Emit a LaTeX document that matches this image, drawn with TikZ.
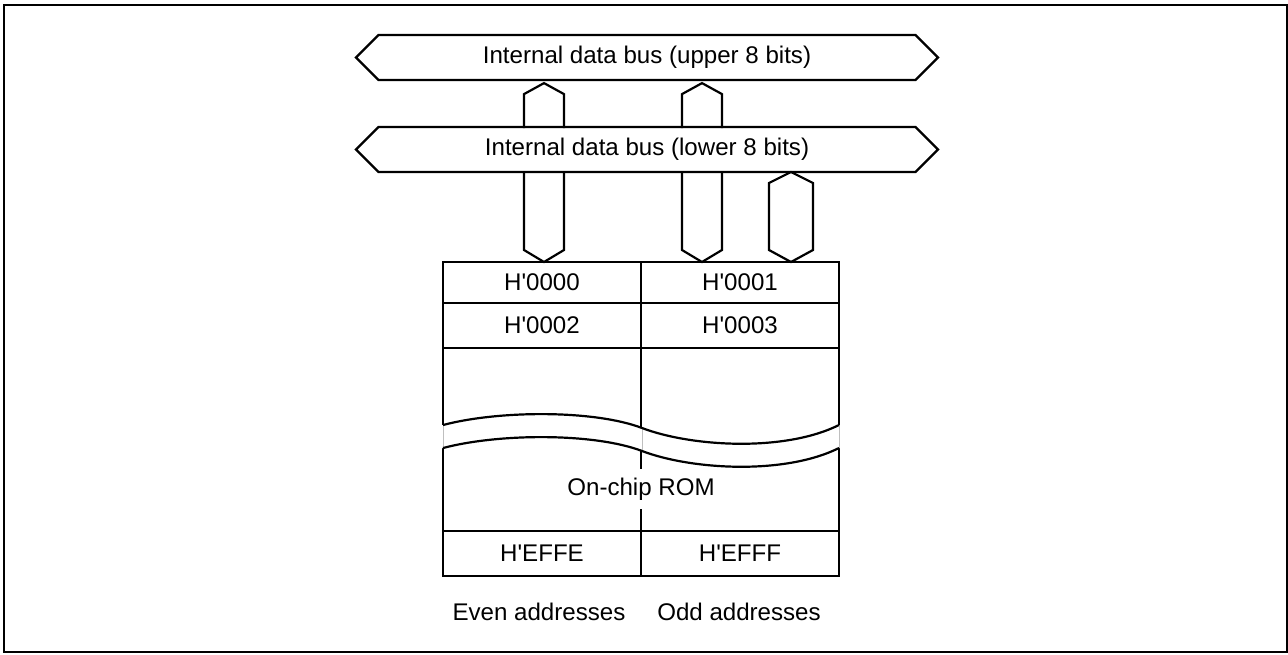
\documentclass[tikz,border=0pt]{standalone}
\usepackage{fontspec}
\setmainfont{Liberation Sans}
\usetikzlibrary{shapes.symbols,positioning,calc}
\newcommand\labelfont{\fontsize{24.1}{28}\selectfont}
\newcommand\hq{H\textquotesingle}
\tikzset{
  wire/.style={draw=black,line width=2.2pt,line join=miter},
  bus/.style={wire,signal,signal to=west and east,signal pointer angle=90,
    minimum width=582pt,minimum height=45pt,inner sep=0pt,font=\labelfont},
  cell/.style={wire,minimum width=198pt,minimum height=#1,inner sep=0pt,
    outer sep=0pt,font=\labelfont},
  cell/.default=45pt,
  tag/.style={font=\labelfont,inner sep=0pt},
  gapline/.style={draw=black!25,line width=0.4pt},
  % fat bus arrows, tip at the origin
  pics/bus up/.style={code={
    \draw[wire] (-20,#1) -- (-20,11) -- (0,0) -- (20,11) -- (20,#1);
  }},
  pics/bus down/.style={code={
    \draw[wire] (-20,-#1) -- (-20,-12) -- (0,0) -- (20,-12) -- (20,-#1);
  }},
  pics/bus both/.style={code={
    \draw[wire] (0,0) -- (-22,-12) -- (-22,-#1+11) -- (0,-#1) -- (22,-#1+11) -- (22,-12) -- cycle;
  }},
}

\begin{document}
\begin{tikzpicture}[x=1pt,y=-1pt]
  \useasboundingbox (0,0) rectangle (1288,654);
  \draw[line width=1.8pt] (4,5) rectangle (1287,652);

  % buses
  \node[bus] (upper) at (647,57.5) {Internal data bus (upper 8 bits)};
  \node[bus] (lower) at (647,149.5) {Internal data bus (lower 8 bits)};

  % memory cells
  \node[cell=41pt] (c0000) at (542,282.5) {\hq0000};
  \node[cell=41pt,right=0pt of c0000] (c0001) {\hq0001};
  \node[cell,below=0pt of c0000] (c0002) {\hq0002};
  \node[cell,below=0pt of c0001] (c0003) {\hq0003};
  \node[cell] (cEFFE) at (542,553.5) {\hq EFFE};
  \node[cell,right=0pt of cEFFE] (cEFFF) {\hq EFFF};
  \node[tag,minimum height=40pt] (rom) at (c0002.south east |- 0,489) {On-chip ROM};

  \draw[wire] (c0002.south west) -- (cEFFE.north west);
  \draw[wire] (c0003.south east) -- (cEFFF.north east);
  \draw[wire] (c0002.south east) -- (rom.north);
  \draw[wire] (rom.south) -- (cEFFE.north east);

  % break in the memory map
  \fill[white] (441,425) -- (443,425) .. controls (500,410) and (595,410) .. (642,428)
    .. controls (692,447) and (785,452) .. (839,425) -- (841,425) -- (841,448) -- (839,448)
    .. controls (785,475) and (692,470) .. (642,451) .. controls (595,433) and (500,433) .. (443,448)
    -- (441,448) -- cycle;
  \draw[gapline] (443,425) -- (443,448);
  \draw[gapline] (642,428) -- (642,451);
  \draw[gapline] (839,425) -- (839,448);
  \draw[wire] (443,425) .. controls (500,410) and (595,410) .. (642,428)
    .. controls (692,447) and (785,452) .. (839,425);
  \draw[wire] (443,448) .. controls (500,433) and (595,433) .. (642,451)
    .. controls (692,470) and (785,475) .. (839,448);

  % bus connections
  \coordinate (laneA) at (544,0);
  \coordinate (laneB) at (702,0);
  \coordinate (laneC) at (791,0);
  \pic at ($(laneA |- upper.south)+(0,2)$) {bus up=45};
  \pic at ($(laneB |- upper.south)+(0,2)$) {bus up=45};
  \pic at (laneA |- c0000.north) {bus down=90};
  \pic at (laneB |- c0001.north) {bus down=90};
  \pic at (laneC |- c0001.north) {bus both=90};

  \node[tag] (even) at (539,612) {Even addresses};
  \node[tag] (odd) at (739,612) {Odd addresses};
\end{tikzpicture}
\end{document}
